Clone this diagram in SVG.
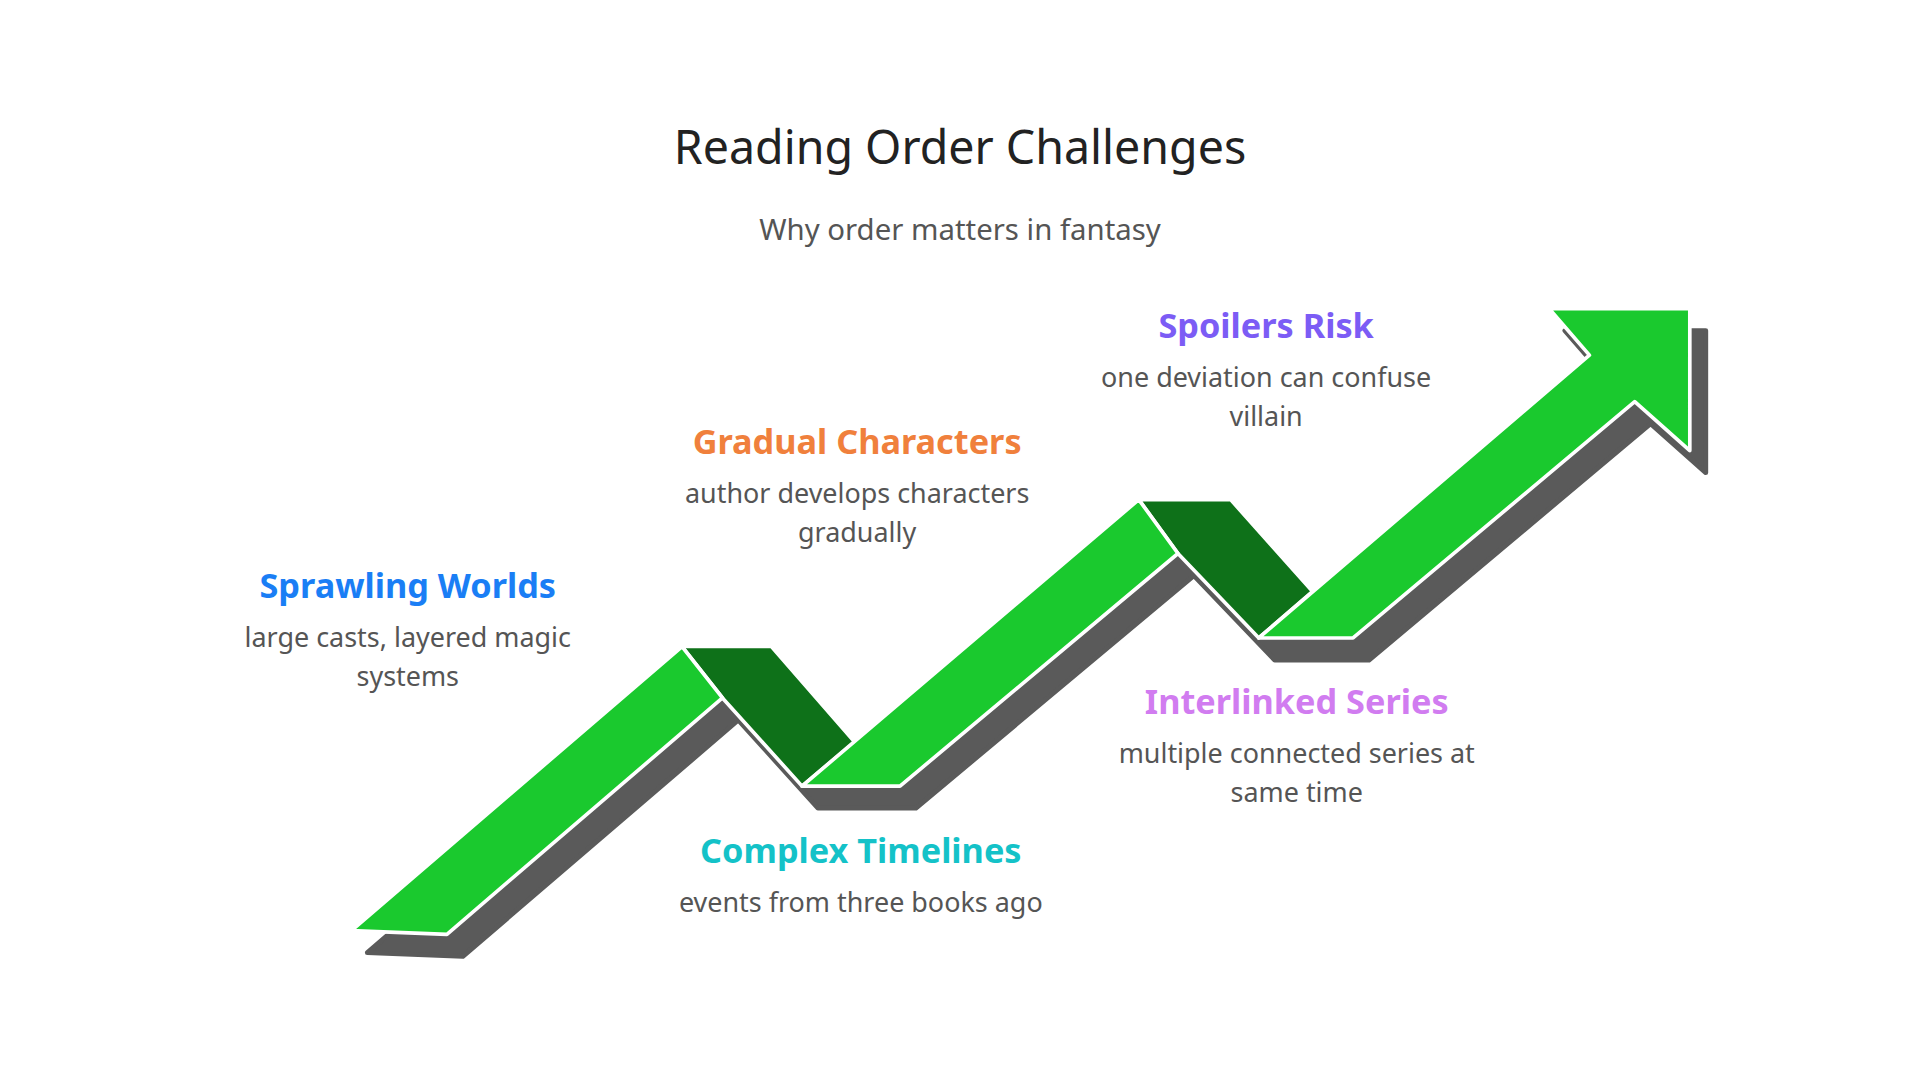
<svg xmlns="http://www.w3.org/2000/svg" width="1920" height="1080" viewBox="0 0 1920 1080">
<style>
.g{fill:#1AC92E;stroke:#fff;stroke-width:3;stroke-linejoin:round}
.d{fill:#0E7119;stroke:#fff;stroke-width:3;stroke-linejoin:round}
.t{font-family:"Noto Sans","Open Sans",sans-serif;text-anchor:middle}
.h{font-size:28px;font-weight:bold}
.b{font-size:22px;fill:#555}
</style>
<rect width="1920" height="1080" fill="#fff"/>
<g transform="scale(1.2245)">
<g id="connectors">
<polygon fill="#5A5A5A" stroke-linejoin="round" stroke="#5A5A5A" stroke-width="4" transform="translate(13,18)" points="287,760 557,528 630,528 698,606 930,408 1005,408 1072,483 1298,290 1265,252 1380,252 1380,368 1335,328 1105,521 1028,521 962,452 735,642 655,642 590,570 365,763"/>
<polygon class="d" points="557,528 630,528 698,606 655,642 590,570"/>
<polygon class="d" points="930,408 1005,408 1072,483 1028,521 962,452"/>
<polygon class="g" points="287,760 557,528 590,570 365,763"/>
<polygon class="g" points="655,642 930,408 962,452 735,642"/>
<polygon class="g" points="1028,521 1298,290 1265,252 1380,252 1380,368 1335,328 1105,521"/>
</g>
<g id="title"><text class="t" x="784" y="134" font-size="38" fill="#222">Reading Order Challenges</text>
<text class="t" x="784" y="196" font-size="24" fill="#555">Why order matters in fantasy</text></g>
<g id="n1"><text class="t h" x="333" y="488" fill="#1A7EF5">Sprawling Worlds</text>
<text class="t b" x="333" y="528">large casts, layered magic</text><text class="t b" x="333" y="560">systems</text></g>
<g id="n2"><text class="t h" x="700" y="371" fill="#F0803C">Gradual Characters</text>
<text class="t b" x="700" y="411">author develops characters</text><text class="t b" x="700" y="443">gradually</text></g>
<g id="n3"><text class="t h" x="1034" y="276" fill="#7C5CF5">Spoilers Risk</text>
<text class="t b" x="1034" y="316">one deviation can confuse</text><text class="t b" x="1034" y="348">villain</text></g>
<g id="n4"><text class="t h" x="703" y="705" fill="#14C2C8">Complex Timelines</text>
<text class="t b" x="703" y="745">events from three books ago</text></g>
<g id="n5"><text class="t h" x="1059" y="583" fill="#D17CF0">Interlinked Series</text>
<text class="t b" x="1059" y="623">multiple connected series at</text><text class="t b" x="1059" y="655">same time</text></g>
</g>
</svg>
